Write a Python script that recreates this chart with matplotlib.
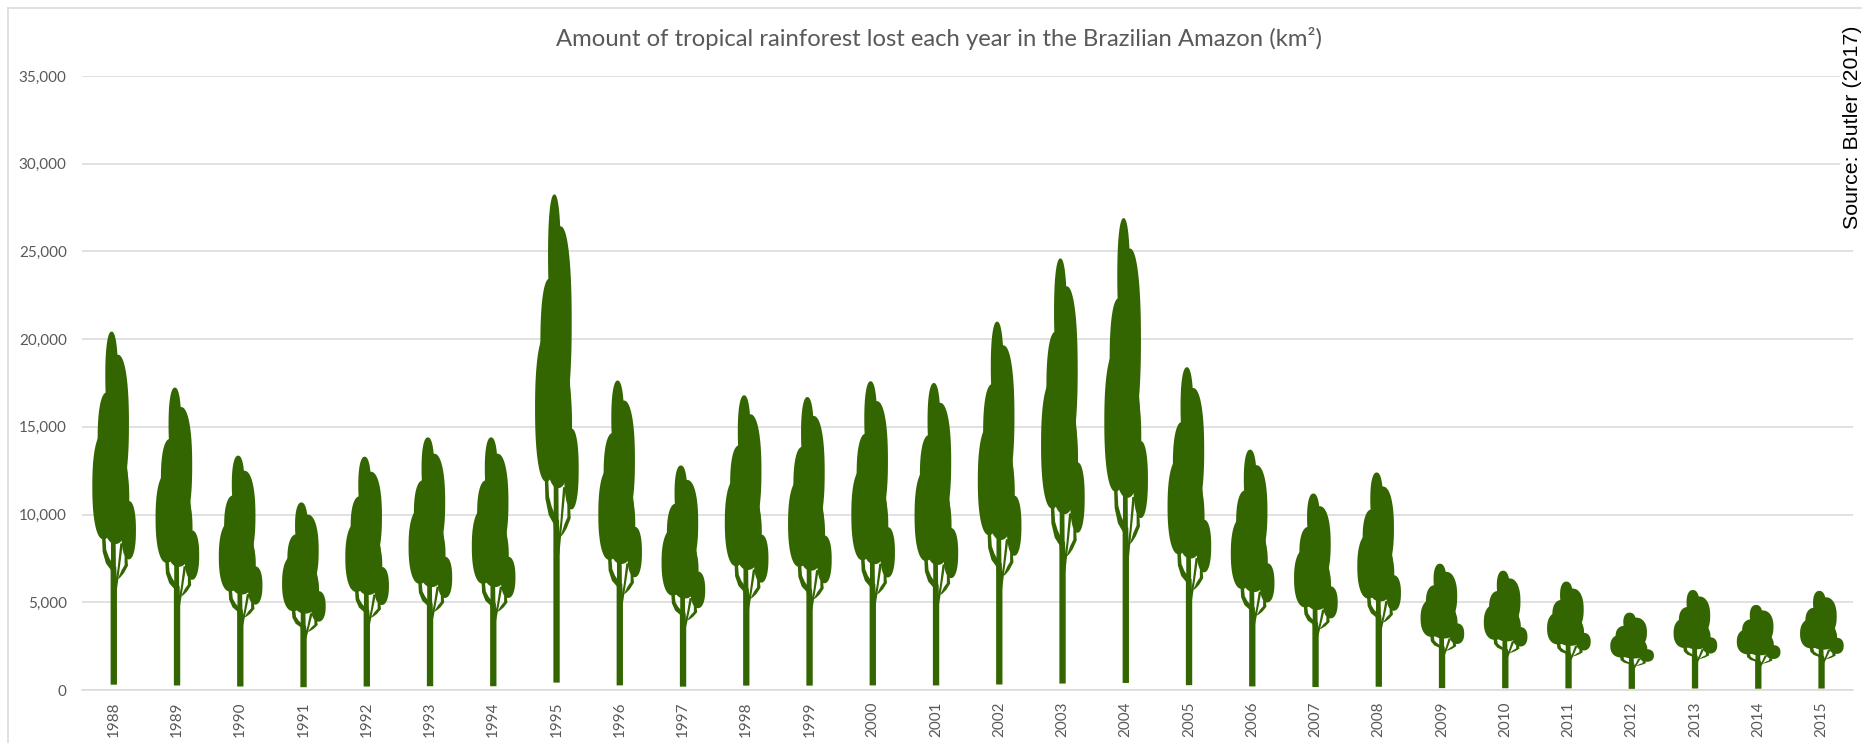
import matplotlib
matplotlib.use("Agg")
import matplotlib.pyplot as plt
import numpy as np
from matplotlib.lines import Line2D
from matplotlib.patches import PathPatch
from matplotlib.path import Path
from matplotlib.transforms import Affine2D

# values read from the tree tops
years = list(range(1988, 2016))
loss_km2 = [20430, 17240, 13360, 10690, 13300, 14400, 14400, 28250, 17640, 12800,
            16800, 16700, 17600, 17500, 21000, 24600, 26900, 18400, 13700, 11200,
            12400, 7200, 6800, 6180, 4410, 5700, 4850, 5650]
y_ticks = [0, 5000, 10000, 15000, 20000, 25000, 30000, 35000]

W, H = 1862, 743
GREEN = "#336600"
GREY = "#595959"
GRID = "#d9d9d9"

# tree glyph, traced off the 1988 tree: crown lobes are (cx, half width, top, bottom)
GLYPH_X0, GLYPH_W, GLYPH_BASE, GLYPH_H = 100, 131, 1109, 1073
lobes = [
    (94, 19, 36, 300),
    (112, 34, 105, 520),
    (80, 28, 218, 500),
    (70, 34, 340, 658),
    (105, 38, 380, 600),
    (145, 22, 543, 718),
    (105, 42, 400, 672),
]
branches = [
    [(91, 1093), (110, 1093), (110, 815), (108, 740), (91, 740)],
    [(92, 760), (92, 655), (106, 655), (107, 760)],
    [(92, 750), (77, 730), (67, 695), (65, 645), (75, 645), (78, 690), (86, 712), (95, 728)],
    [(100, 818), (109, 815), (128, 670), (120, 670), (112, 745)],
    [(112, 778), (120, 772), (131, 759), (143, 737), (141, 708), (133, 708), (133, 735), (124, 750)],
]


def to_unit(pts):
    pts = np.asarray(pts, dtype=float)
    return np.column_stack([(pts[:, 0] - GLYPH_X0) / GLYPH_W, (GLYPH_BASE - pts[:, 1]) / GLYPH_H])


def lobe_points(cx, hw, top, bottom):
    # slightly boxier than an ellipse, the lobes in the chart are full at the sides
    t = np.linspace(0, 2 * np.pi, 80)
    mid, hh = (top + bottom) / 2, (bottom - top) / 2
    c, s = np.cos(t), np.sin(t)
    p = 2 / 2.3
    return np.column_stack([cx + hw * np.sign(c) * np.abs(c) ** p, mid + hh * np.sign(s) * np.abs(s) ** p])


tree_parts = [Path(to_unit(lobe_points(*l)), closed=True) for l in lobes]
tree_parts += [Path(np.vstack([to_unit(b), to_unit(b)[:1]]), closed=True) for b in branches]

fig = plt.figure(figsize=(W / 100, H / 100), dpi=100, facecolor="white")
ax = fig.add_axes([82 / W, 1 - 690 / H, (1853 - 82) / W, 614 / H])

ax.set_xlim(-0.5, len(years) - 0.5)
ax.set_ylim(0, 35000)
ax.set_yticks(y_ticks)
ax.set_yticklabels([f"{v:,}" for v in y_ticks], fontfamily="Lato", fontsize=11, color=GREY)
ax.set_xticks(range(len(years)))
ax.set_xticklabels(years, rotation=90, fontfamily="Lato", fontsize=11, color=GREY)
ax.tick_params(length=0)
ax.tick_params(axis="y", pad=11)
ax.tick_params(axis="x", pad=8)
ax.yaxis.grid(True, color=GRID, lw=1.1)
ax.set_axisbelow(True)
for name, spine in ax.spines.items():
    spine.set_visible(name == "bottom")
ax.spines["bottom"].set_color(GRID)
ax.spines["bottom"].set_linewidth(1.1)

# one tree per year, width fixed, height is the value
for i, val in enumerate(loss_km2):
    tr = Affine2D().scale(0.69, val).translate(i, 0) + ax.transData
    for part in tree_parts:
        ax.add_patch(PathPatch(part, facecolor=GREEN, edgecolor="none", transform=tr, zorder=3))

fig.text(939.5 / W, 1 - 38 / H, "Amount of tropical rainforest lost each year in the Brazilian Amazon (km²)",
         ha="center", va="center", fontfamily="Lato", fontsize=17.2, color=GREY)
fig.text(1852 / W, 1 - 127 / H, "Source: Butler (2017)", rotation=90, ha="center", va="center",
         fontfamily="Liberation Sans", fontsize=15.4, color="black",
         bbox=dict(facecolor="white", edgecolor="none", pad=1.5), zorder=5)

# chart border, only top and left are in frame
fig.add_artist(Line2D([8 / W, 8 / W], [0, 1 - 8 / H], color=GRID, lw=1.1))
fig.add_artist(Line2D([8 / W, 1], [1 - 8 / H, 1 - 8 / H], color=GRID, lw=1.1))

fig.savefig("out.png", dpi=100)
